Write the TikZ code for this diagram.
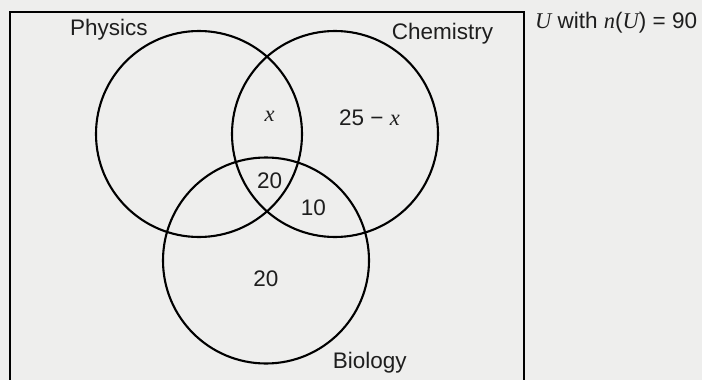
\documentclass[tikz,border=0pt]{standalone}
\usepackage{fontspec}
\setmainfont{Liberation Sans}
\newfontfamily\varfont{Liberation Serif}
\definecolor{paper}{RGB}{238,238,237}
\definecolor{ink}{RGB}{30,30,30}
\tikzset{
  setcirc/.style={circle, draw=black, line width=2.1pt, minimum size=206pt, inner sep=0pt},
  lbl/.style={inner sep=0pt, anchor=base, text=ink, font=\fontsize{22.5}{27}\selectfont},
  frame/.style={draw=black, line width=2pt}
}
\newcommand{\vv}[1]{{\varfont\itshape #1}}
\begin{document}
\begin{tikzpicture}[x=1pt,y=-1pt]
\useasboundingbox (0,0) rectangle (702,380);
\fill[paper] (0,0) rectangle (702,380);
\begin{scope}
\clip (0,0) rectangle (702,380);
\draw[frame] (10.3,12) rectangle (524,392);
\end{scope}
\node[setcirc] (P) at (199,134) {};
\node[setcirc] (C) at (335,134) {};
\node[setcirc] (B) at (266,260.5) {};
\node[lbl] (lP) at (108.9,35) {Physics};
\node[lbl] (lC) at (442.5,39) {Chemistry};
\node[lbl] (lB) at (369.7,368.3) {Biology};
\node[lbl] (nPC) at (269.7,121.7) {\vv{x}};
\node[lbl] (nC) at (369.5,125.7) {25 − \vv{x}};
\node[lbl] (nPCB) at (269.7,188.3) {20};
\node[lbl] (nCB) at (313.5,215) {10};
\node[lbl] (nB) at (266,286.7) {20};
\node[lbl, anchor=base west] (U) at (535,28.3) {\vv{U} with \vv{n}(\vv{U}) = 90};
\end{tikzpicture}
\end{document}
